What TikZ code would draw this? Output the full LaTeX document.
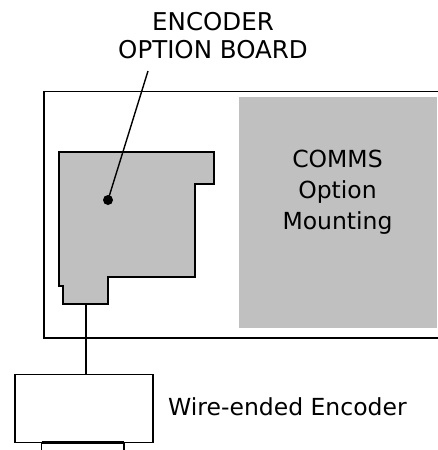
\documentclass[tikz,border=0pt]{standalone}
\usepackage{fontspec}
\setmainfont{DejaVu Sans}
\definecolor{boardgray}{HTML}{C0C0C0}
\tikzset{
  lbl/.style={inner sep=0pt, align=center, font=\fontsize{23.5}{31}\selectfont},
  outline/.style={draw=black, line width=1.5pt},
  boardshape/.style={draw=black, fill=boardgray, line width=1.4pt, line join=miter},
}
\begin{document}
\begin{tikzpicture}[x=1pt,y=-1pt]
\useasboundingbox (0,0) rectangle (438,450);
% COMMS option mounting
\fill[boardgray] (239,97) rectangle (436.5,328);
\node[lbl] (comms) at (337.5,192.5) {COMMS\\Option\\Mounting};
% outer drive outline (open on the right)
\draw[outline] (438,91.5) -- (44,91.5) -- (44,338) -- (438,338);
% encoder option board
\draw[boardshape] (59,152) -- (214,152) -- (214,184) -- (195,184) -- (195,277)
  -- (108,277) -- (108,304) -- (63,304) -- (63,286) -- (59,286) -- cycle;
\coordinate (dot) at (108,200);
\coordinate (boardout) at (86,304);
\coordinate (leadtop) at (148,71);
\fill (dot) circle (5);
\node[lbl, font=\fontsize{24.5}{28}\selectfont] (enclabel) at (213,35.2) {ENCODER\\OPTION BOARD};
\draw[line width=1.4pt] (dot) -- (leadtop);
% wire-ended encoder
\node[outline, minimum width=138.3pt, minimum height=68pt, inner sep=0pt] (encoder) at (83.9,408.7) {};
\draw[line width=1.4pt] (boardout) -- (boardout |- encoder.north);
\coordinate (plugl) at (41.7,442.7);
\coordinate (plugr) at (124,442.7);
\draw[line width=2.8pt] (plugl) -- (plugr);
\draw[line width=1.5pt] (plugl) -- ++(0,10);
\draw[line width=1.5pt] (plugr) -- ++(0,10);
\node[lbl, anchor=base west] (wirelabel) at (168,415.7) {Wire-ended Encoder};
\end{tikzpicture}
\end{document}
